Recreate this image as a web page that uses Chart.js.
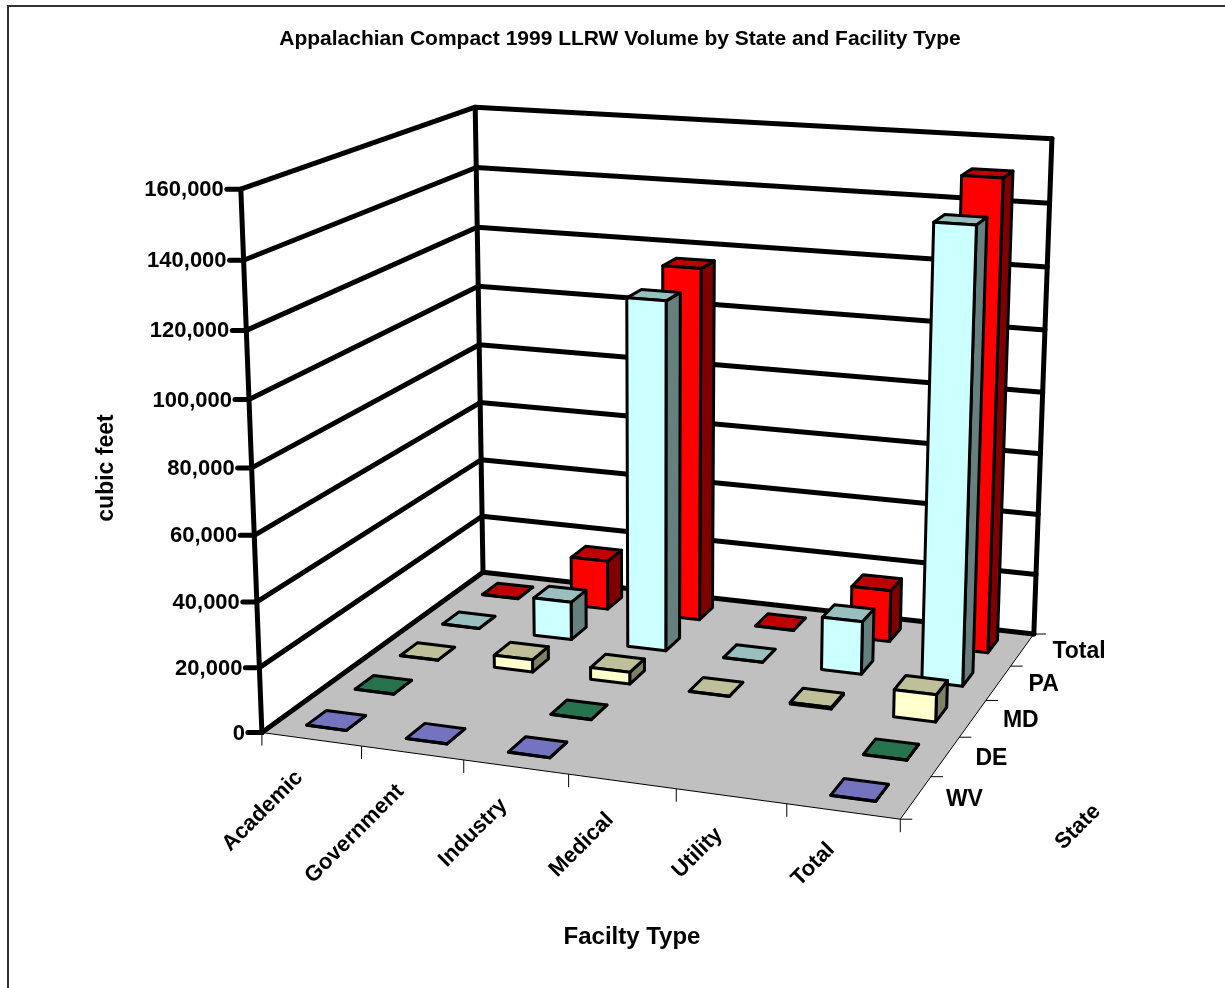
<!DOCTYPE html>
<html>
<head>
<meta charset="utf-8">
<style>html,body{margin:0;padding:0;background:#fff}canvas{display:block}</style>
<script src="https://cdn.jsdelivr.net/npm/chart.js@4/dist/chart.umd.js"></script>
</head>
<body>
<canvas id="chart" width="1225" height="988"></canvas>
<script>
// Facility types along the floor, states from front row to back row.
const facilityTypes = ['Academic', 'Government', 'Industry', 'Medical', 'Utility', 'Total'];
const states = ['WV', 'DE', 'MD', 'PA', 'Total'];

// Volume in cubic feet; null means the state reported nothing for that type.
const wvVolume    = [60, 60, 60, null, null, 100];
const deVolume    = [60, null, 60, null, null, 100];
const mdVolume    = [80, 4000, 3800, 60, 500, 8500];
const paVolume    = [60, 12500, 112800, 60, 17000, 142500];
const totalVolume = [100, 16500, 116500, 100, 17000, 151000];

const stateColors = ['#9999FF', '#339966', '#FFFFCC', '#CCFFFF', '#FF0000'];
const volumesByState = [wvVolume, deVolume, mdVolume, paVolume, totalVolume];

const TITLE = 'Appalachian Compact 1999 LLRW Volume by State and Facility Type';
const VALUE_TITLE = 'cubic feet';
const FACILITY_TITLE = 'Facilty Type';
const STATE_TITLE = 'State';

// Where the corners of the unit plot box land on the canvas: [x, depth, height, px, py].
const boxCorners = [
  [0, 0, 0, 262, 732], [1, 0, 0, 900, 820], [1, 1, 0, 1034, 633], [0, 1, 0, 483, 573],
  [0, 0, 1, 241, 189], [0, 1, 1, 475, 107], [1, 1, 1, 1052, 139]
];
const BAR_FOOTPRINT = 0.4;

// Least-squares fit of a 3x4 projective camera to the box corners.
function fitCamera(corners) {
  const rows = [], rhs = [];
  corners.forEach(([x, d, h, px, py]) => {
    const u = px / 1000, v = py / 1000;
    rows.push([x, d, h, 1, 0, 0, 0, 0, -u * x, -u * d, -u * h]); rhs.push(u);
    rows.push([0, 0, 0, 0, x, d, h, 1, -v * x, -v * d, -v * h]); rhs.push(v);
  });
  const n = 11;
  const A = [];
  for (let i = 0; i < n; i++) {
    A.push(new Array(n + 1).fill(0));
    rows.forEach((row, r) => {
      for (let j = 0; j < n; j++) A[i][j] += row[i] * row[j];
      A[i][n] += row[i] * rhs[r];
    });
  }
  for (let c = 0; c < n; c++) {
    let p = c;
    for (let r = c + 1; r < n; r++) if (Math.abs(A[r][c]) > Math.abs(A[p][c])) p = r;
    [A[c], A[p]] = [A[p], A[c]];
    for (let r = 0; r < n; r++) {
      if (r === c) continue;
      const f = A[r][c] / A[c][c];
      for (let j = c; j <= n; j++) A[r][j] -= f * A[c][j];
    }
  }
  return A.map((row, i) => row[n] / row[i]);
}
const cam = fitCamera(boxCorners);
function project(x, d, h) {
  const w = cam[8] * x + cam[9] * d + cam[10] * h + 1;
  return [
    1000 * (cam[0] * x + cam[1] * d + cam[2] * h + cam[3]) / w,
    1000 * (cam[4] * x + cam[5] * d + cam[6] * h + cam[7]) / w
  ];
}

// Chart-scale pixels expressed as fractions of the plot box.
const fracX = (chart, scale, value) => (scale.getPixelForValue(value) - scale.left) / scale.width;
const fracH = (scale, value) => (scale.bottom - scale.getPixelForValue(value)) / scale.height;

function poly(ctx, pts, fill, stroke, width) {
  ctx.beginPath();
  pts.forEach((p, i) => (i ? ctx.lineTo(p[0], p[1]) : ctx.moveTo(p[0], p[1])));
  ctx.closePath();
  if (fill) { ctx.fillStyle = fill; ctx.fill(); }
  if (stroke) { ctx.strokeStyle = stroke; ctx.lineWidth = width; ctx.lineJoin = 'round'; ctx.stroke(); }
}
function path(ctx, pts, width) {
  ctx.beginPath();
  pts.forEach((p, i) => (i ? ctx.lineTo(p[0], p[1]) : ctx.moveTo(p[0], p[1])));
  ctx.strokeStyle = '#000';
  ctx.lineWidth = width;
  ctx.lineJoin = 'round';
  ctx.lineCap = 'round';
  ctx.stroke();
  ctx.lineCap = 'butt';
}
function shade(hex, k) {
  const n = parseInt(hex.slice(1), 16);
  return `rgb(${Math.round((n >> 16) * k)},${Math.round(((n >> 8) & 255) * k)},${Math.round((n & 255) * k)})`;
}
function label(ctx, text, x, y, font, align, angle) {
  ctx.save();
  ctx.translate(x, y);
  if (angle) ctx.rotate(angle);
  ctx.font = font;
  ctx.fillStyle = '#000';
  ctx.textAlign = align;
  ctx.textBaseline = 'middle';
  ctx.fillText(text, 0, 0);
  ctx.restore();
}

// Floor, walls and gridlines behind the bars.
const plotBox = {
  id: 'plotBox',
  beforeDatasetsDraw(chart) {
    const { ctx, scales } = chart;
    ctx.save();
    ctx.strokeStyle = '#333';
    ctx.lineWidth = 2;
    ctx.beginPath();
    ctx.moveTo(8, 988); ctx.lineTo(8, 6); ctx.lineTo(1225, 6);
    ctx.stroke();

    poly(ctx, [project(0, 0, 0), project(1, 0, 0), project(1, 1, 0), project(0, 1, 0)], '#C0C0C0', '#000', 1);
    scales.y.ticks.forEach(t => {
      const h = fracH(scales.y, t.value);
      path(ctx, [project(0, 0, h), project(0, 1, h), project(1, 1, h)], 5);
    });
    path(ctx, [project(0, 0, 0), project(0, 0, 1)], 5);
    path(ctx, [project(0, 1, 0), project(0, 1, 1)], 5);
    path(ctx, [project(1, 1, 0), project(1, 1, 1)], 5);
    ctx.restore();
  },
  // One dataset is one row of boxes; rows are painted back to front by the chart.
  beforeDatasetDraw(chart, { index, meta }) {
    const { ctx, scales } = chart;
    const ds = chart.data.datasets[index];
    const d0 = fracX(chart, scales.depth, states[index]);
    const halfD = BAR_FOOTPRINT / states.length / 2;
    const baseH = fracH(scales.y, 0);
    ctx.save();
    ds.data.forEach((value, i) => {
      if (value === null) return;
      const x0 = fracX(chart, scales.x, facilityTypes[i]);
      const halfX = BAR_FOOTPRINT / facilityTypes.length / 2;
      const h = fracH(scales.y, value);
      const [xa, xb, da, db] = [x0 - halfX, x0 + halfX, d0 - halfD, d0 + halfD];
      const edge = 3;
      poly(ctx, [project(xb, da, baseH), project(xb, db, baseH), project(xb, db, h), project(xb, da, h)], shade(ds.backgroundColor, 0.5), '#000', edge);
      poly(ctx, [project(xa, da, h), project(xb, da, h), project(xb, db, h), project(xa, db, h)], shade(ds.backgroundColor, 0.75), '#000', edge);
      poly(ctx, [project(xa, da, baseH), project(xb, da, baseH), project(xb, da, h), project(xa, da, h)], ds.backgroundColor, '#000', edge);
    });
    ctx.restore();
    return false;
  },
  // Axis ticks and every piece of text.
  afterDraw(chart) {
    const { ctx, scales } = chart;
    ctx.save();
    const bold = s => `bold ${s}px "Liberation Sans", Arial, sans-serif`;

    label(ctx, TITLE, 620, 39, bold(21), 'center');
    label(ctx, VALUE_TITLE, 107, 468, bold(23), 'center', -Math.PI / 2);
    label(ctx, FACILITY_TITLE, 632, 937, bold(24), 'center');
    label(ctx, STATE_TITLE, 1078, 827, bold(22), 'center', -Math.PI / 4);

    scales.y.ticks.forEach(t => {
      const [px, py] = project(0, 0, fracH(scales.y, t.value));
      path(ctx, [[px - 14, py], [px, py]], 5);
      label(ctx, t.label, px - 17, py + 1, bold(22), 'right');
    });

    for (let i = 0; i <= facilityTypes.length; i++) {
      const [px, py] = project(i / facilityTypes.length, 0, 0);
      ctx.strokeStyle = '#000'; ctx.lineWidth = 1;
      ctx.beginPath(); ctx.moveTo(px, py); ctx.lineTo(px, py + 13); ctx.stroke();
    }
    facilityTypes.forEach(name => {
      const [px, py] = project(fracX(chart, scales.x, name), 0, 0);
      label(ctx, name, px - 12, py + 35, bold(22), 'right', -Math.PI / 4);
    });

    for (let i = 0; i <= states.length; i++) {
      const [px, py] = project(1, i / states.length, 0);
      ctx.strokeStyle = '#000'; ctx.lineWidth = 1;
      ctx.beginPath(); ctx.moveTo(px, py); ctx.lineTo(px + 12, py); ctx.stroke();
    }
    states.forEach(name => {
      const [px, py] = project(1, fracX(chart, scales.depth, name), 0);
      label(ctx, name, px + 30, py + 2, bold(23), 'left');
    });
    ctx.restore();
  }
};

new Chart(document.getElementById('chart'), {
  type: 'bar',
  data: {
    labels: facilityTypes,
    datasets: states.map((state, i) => ({
      label: state,
      data: volumesByState[i],
      backgroundColor: stateColors[i]
    }))
  },
  options: {
    responsive: false,
    animation: false,
    events: [],
    layout: { padding: 0 },
    plugins: { legend: { display: false }, tooltip: { enabled: false }, title: { display: false } },
    scales: {
      x: { type: 'category', offset: true, display: false },
      depth: { type: 'category', axis: 'x', position: 'bottom', labels: states, offset: true, display: false },
      y: {
        type: 'linear', min: 0, max: 160000, display: false,
        ticks: { stepSize: 20000, callback: v => v.toLocaleString('en-US') }
      }
    }
  },
  plugins: [plotBox]
});
</script>
</body>
</html>
